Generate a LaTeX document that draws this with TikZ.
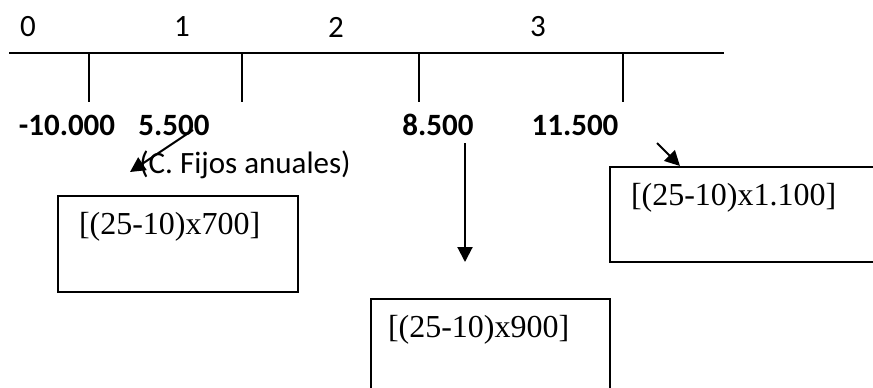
\documentclass[tikz,border=0pt]{standalone}
\usepackage{fontspec}
\setmainfont{Carlito}
\newfontfamily\timesfont{Liberation Serif}
\usetikzlibrary{arrows.meta}

\begin{document}
\begin{tikzpicture}[x=0.5pt, y=-0.5pt, line width=1pt,
	every node/.style={font=\fontsize{15.5}{18}\selectfont, inner sep=0pt},
	valor/.style={font=\fontsize{15.5}{18}\selectfont\bfseries},
	cajon/.style={draw, line width=0.9pt, anchor=north west, inner sep=0pt},
	formula/.style={font=\fontsize{16}{19}\selectfont\timesfont, anchor=west},
	flecha/.style={-{Triangle[length=7.5pt, width=7.5pt]}}]
	\useasboundingbox (0,0) rectangle (873,387);
	\clip (0,0) rectangle (873,387);

	% eje de tiempo
	\draw (9,53) -- (724,53);
	\foreach \x in {89,242,419,623}{
		\draw (\x,53) -- ++(0,49);
	}
	\foreach \x/\n in {28/0,182/1,336/2,538/3}{
		\node (p\n) at (\x,27) {\n};
	}

	% flujos
	\node[valor] (v10) at (67,125) {-10.000};
	\node[valor] (v55) at (174,125) {5.500};
	\node[valor] (v85) at (438,125) {8.500};
	\node[valor] (v115) at (575,125) {11.500};
	\node (cf) at (245,165) {(C. Fijos anuales)};

	% cajas
	\node[cajon, minimum width=120pt, minimum height=48pt] (c700) at (57,195) {};
	\node[formula] (t700) at (78,227) {[(25-10)x700]};
	\node[cajon, minimum width=136pt, minimum height=47.5pt] (c1100) at (609,166) {};
	\node[formula] (t1100) at (630,198) {[(25-10)x1.100]};
	\node[cajon, minimum width=119.5pt, minimum height=60pt] (c900) at (370,298) {};
	\node[formula] (t900) at (387,330) {[(25-10)x900]};

	% flechas
	\coordinate (a1) at (193,130);
	\coordinate (b1) at (130,172);
	\coordinate (a2) at (465,143);
	\coordinate (b2) at (465,262);
	\coordinate (a3) at (657,143);
	\coordinate (b3) at (680,166);
	\draw[flecha] (a1) -- (b1);
	\draw[flecha] (a2) -- (b2);
	\draw[flecha] (a3) -- (b3);
\end{tikzpicture}
\end{document}
